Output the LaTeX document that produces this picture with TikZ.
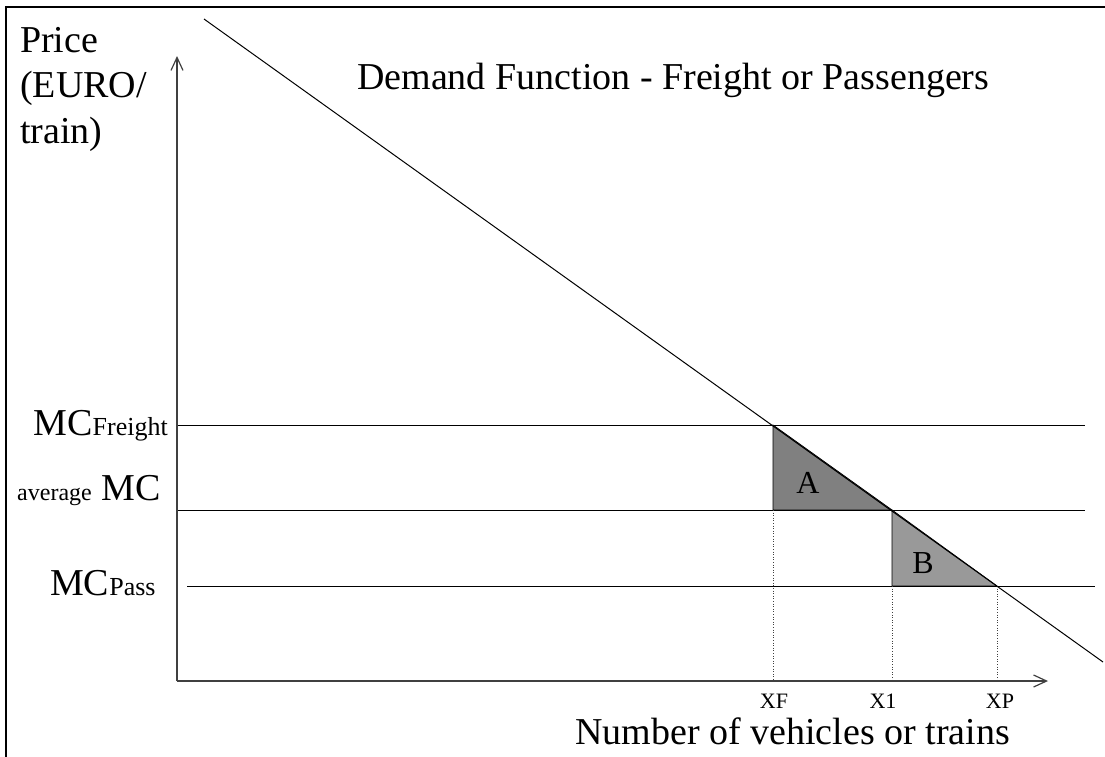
\documentclass[tikz,border=0pt]{standalone}
\usepackage{fontspec}
\setmainfont{Liberation Serif}
\usetikzlibrary{arrows.meta,positioning}
\definecolor{dfaxis}{HTML}{404040}
\definecolor{dfareaA}{HTML}{808080}
\definecolor{dfareaB}{HTML}{999999}
\newcommand{\bigfont}{\fontsize{38}{45.5}\selectfont}
\newcommand{\subfont}{\fontsize{26}{30}\selectfont}
\newcommand{\tickfont}{\fontsize{22}{26}\selectfont}

\begin{document}
\begin{tikzpicture}[x=1pt, y=-1pt,
  lbl/.style={inner sep=0pt, font=\bigfont},
  tick/.style={inner sep=0pt, font=\tickfont, anchor=base},
  area/.style={draw=black, line width=0.8pt},
  axis/.style={-{Straight Barb[length=13pt,width=12pt]}, line width=1.2pt, dfaxis},
  level/.style={line width=1pt},
  guide/.style={dotted, line width=0.6pt, dfaxis}]
\useasboundingbox (0,0) rectangle (1105,756);
\clip (0,0) rectangle (1105,756);
\draw[line width=2pt] (6,780) -- (6,7) -- (1130,7);
% key points of the diagram
\coordinate (O) at (177,681);
\coordinate (ytip) at (177,56);
\coordinate (xtip) at (1048,681);
\coordinate (dtop) at (204,19);
\coordinate (dbot) at (1103,662);
\coordinate (F) at (773,425);
\coordinate (M) at (892,510);
\coordinate (P) at (997,586);
\coordinate (fend) at (1085,425);
\coordinate (mend) at (1085,510);
\coordinate (pstart) at (187,586);
\coordinate (pend) at (1095,586);
% welfare triangles
\filldraw[area, fill=dfareaA] (F) -- (F |- M) -- (M) -- cycle;
\filldraw[area, fill=dfareaB] (M) -- (M |- P) -- (P) -- cycle;
\node[inner sep=0pt, font=\fontsize{32}{36}\selectfont] (areaA) at (808,483) {A};
\node[inner sep=0pt, font=\fontsize{32}{36}\selectfont] (areaB) at (923,563) {B};
% price levels
\draw[level] (O |- F) -- (fend);
\draw[level] (O |- M) -- (mend);
\draw[level] (pstart) -- (pend);
\draw[guide] (F |- M) -- (F |- O);
\draw[guide] (M |- P) -- (M |- O);
\draw[guide] (P) -- (P |- O);
% demand and axes
\draw[level] (dtop) -- (dbot);
\draw[axis] (O) -- (ytip);
\draw[axis] (O) -- (xtip);
% labels
\node[lbl, anchor=north west, align=left] (price) at (20,27) {Price\\(EURO/\\train)};
\node[lbl, anchor=base west] (title) at (357,89) {Demand Function - Freight or Passengers};
\node[lbl, anchor=base west] (xlabel) at (575,744) {Number of vehicles or trains};
\node[tick] (xf) at (774,708) {XF};
\node[tick] (x1) at (883,708) {X1};
\node[tick] (xp) at (1000,708) {XP};
\node[lbl, anchor=base east] (mcf) at (168,435) {MC{\subfont Freight}};
\node[lbl, anchor=base west] (mca) at (17,500) {{\fontsize{24}{28}\selectfont average} MC};
\node[lbl, anchor=base west] (mcp) at (50,595) {MC{\subfont Pass}};
\end{tikzpicture}
\end{document}
